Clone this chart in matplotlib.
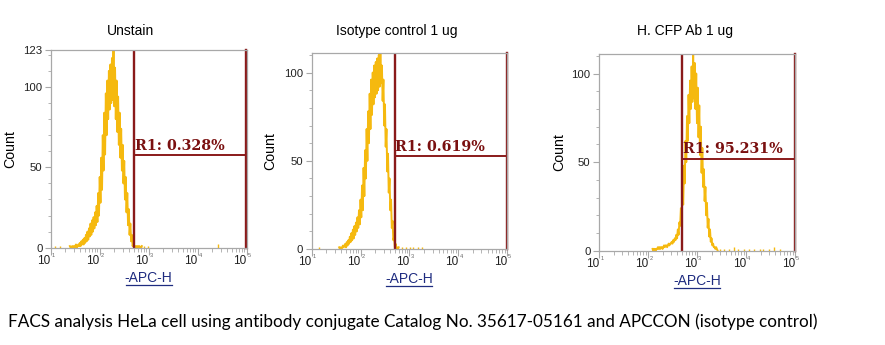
import matplotlib
matplotlib.use("Agg")
import matplotlib.pyplot as plt
import numpy as np
from matplotlib.ticker import FixedLocator, NullFormatter
from matplotlib.transforms import blended_transform_factory

# channels: 64 per decade, log10(value) = 1 + ch / 64
CH_PER_DECADE = 64

titles = ["Unstain", "Isotype control 1 ug", "H. CFP Ab 1 ug"]
gate_labels = ["R1: 0.328%", "R1: 0.619%", "R1: 95.231%"]
gate_lo = [500, 500, 495]
gate_hi = [98500, 98500, 98500]
gate_y = [57.7, 52.6, 52.0]
y_max = [123, 111, 111]
y_ticks = [[0, 50, 100, 123], [0, 50, 100], [0, 50, 100]]
decades = [1, 2, 3, 4, 5]

unstain_start = 25
unstain_counts = [1, 0, 0, 1, 0, 1, 0, 1, 2, 0, 1, 2, 1, 3, 1, 4, 2, 5, 2, 6,
                  3, 8, 4, 10, 5, 12, 7, 15, 8, 17, 10, 19, 12, 22, 14, 26, 16, 34, 20, 44,
                  28, 56, 36, 70, 48, 84, 58, 96, 70, 104, 80, 110, 86, 114, 90, 118, 92, 123, 88, 112,
                  80, 104, 72, 94, 64, 84, 56, 74, 48, 64, 40, 54, 30, 44, 22, 34, 14, 24, 8, 15,
                  4, 8, 1, 3, 0, 1, 0, 1, 0, 1, 0, 1, 0, 0, 1]
unstain_sparse_ch = [6, 12, 118, 122, 127, 218]
unstain_sparse_n = [1, 1, 1, 1, 1, 2]

isotype_start = 36
isotype_counts = [1, 0, 1, 0, 1, 2, 1, 2, 3, 1, 4, 2, 5, 3, 7, 4, 9, 5, 11, 6,
                  13, 8, 15, 10, 18, 12, 22, 14, 28, 18, 36, 22, 46, 30, 56, 40, 68, 50, 78, 60,
                  88, 68, 96, 76, 100, 82, 104, 86, 106, 88, 108, 90, 110, 92, 111, 94, 104, 84, 96, 70,
                  82, 58, 68, 44, 54, 32, 40, 22, 28, 12, 16, 5, 7, 1, 3, 0, 1, 0, 1]
isotype_sparse_ch = [9, 118, 124, 129, 133, 139, 145]
isotype_sparse_n = [1, 1, 1, 1, 1, 1, 1]

cfp_start = 70
cfp_counts = [1, 0, 1, 1, 0, 1, 1, 2, 1, 2, 1, 2, 2, 1, 2, 3, 2, 3, 3, 2,
              3, 4, 3, 4, 4, 5, 4, 6, 5, 7, 6, 9, 7, 12, 9, 16, 14, 24, 18, 34,
              26, 48, 38, 62, 50, 76, 62, 88, 72, 96, 80, 104, 84, 111, 86, 106, 80, 100, 72, 92,
              64, 82, 54, 70, 44, 58, 36, 46, 28, 36, 20, 27, 13, 18, 8, 12, 5, 7, 3, 4,
              2, 2, 1, 2, 1, 0]
cfp_sparse_ch = [158, 163, 170, 176, 181, 189, 196, 203, 210, 214, 222, 229, 236]
cfp_sparse_n = [1, 1, 1, 2, 1, 1, 1, 1, 1, 1, 1, 2, 1]

hists = [
    (unstain_start, unstain_counts, unstain_sparse_ch, unstain_sparse_n),
    (isotype_start, isotype_counts, isotype_sparse_ch, isotype_sparse_n),
    (cfp_start, cfp_counts, cfp_sparse_ch, cfp_sparse_n),
]

axes_pos = [
    [0.0573, 0.282, 0.2215, 0.573],
    [0.3522, 0.278, 0.2207, 0.568],
    [0.6768, 0.2733, 0.2215, 0.570],
]
title_x = [130.5, 397, 685]
ylabel_x = [-0.169, -0.178, -0.168]

spine_col = "#a8a8a8"
hist_col = "#f5b90f"
gate_col = "#8a1a1a"
label_col = "#1f2c80"

plt.rcParams["font.family"] = ["Liberation Sans", "DejaVu Sans"]
fig = plt.figure(figsize=(8.85, 3.45), dpi=100)


def ch_to_val(ch):
    return 10 ** (1 + np.asarray(ch, dtype=float) / CH_PER_DECADE)


for i in range(3):
    ax = fig.add_axes(axes_pos[i])
    start, counts, sp_ch, sp_n = hists[i]
    x = ch_to_val(np.arange(start, start + len(counts)))
    ax.plot(x, counts, color=hist_col, lw=1.4)
    ax.vlines(ch_to_val(sp_ch), 0, sp_n, color=hist_col, lw=1.0)

    ax.set_xscale("log")
    ax.set_xlim(10, 1e5)
    ax.set_ylim(0, y_max[i])

    # gate R1
    ax.plot([gate_lo[i], gate_lo[i]], [0, y_max[i]], color=gate_col, lw=1.7)
    ax.plot([gate_hi[i], gate_hi[i]], [0, y_max[i]], color=gate_col, lw=1.7, clip_on=False)
    ax.plot([gate_lo[i], gate_hi[i]], [gate_y[i], gate_y[i]], color=gate_col, lw=1.4)
    ax.text(gate_lo[i] * 1.03, gate_y[i] + 1.2, gate_labels[i], color="#7a1010",
            fontsize=10.3, family="DejaVu Serif", weight="bold", va="bottom", ha="left")

    for s in ax.spines.values():
        s.set_color(spine_col)
        s.set_linewidth(0.9)

    ax.xaxis.set_major_locator(FixedLocator([10.0 ** d for d in decades]))
    ax.xaxis.set_major_formatter(NullFormatter())
    minors = [m * 10 ** d for d in range(1, 5) for m in range(2, 10)]
    ax.xaxis.set_minor_locator(FixedLocator(minors))
    ax.xaxis.set_minor_formatter(NullFormatter())
    ax.tick_params(axis="x", which="major", length=5, color=spine_col)
    ax.tick_params(axis="x", which="minor", length=3, color=spine_col)

    # "10" with tiny exponent, as on the cytometer export
    tr = blended_transform_factory(ax.transData, ax.transAxes)
    for d in decades:
        ax.text(10.0 ** d, -0.036, "10", transform=tr, ha="right", va="top",
                fontsize=8.5, color="#222222")
        ax.text(10.0 ** d * 1.06, -0.026, str(d), transform=tr, ha="left", va="top",
                fontsize=4, color="#666666")

    ax.set_yticks(y_ticks[i])
    ax.yaxis.set_minor_locator(FixedLocator(list(range(0, y_max[i], 10))))
    ax.tick_params(axis="y", which="major", length=4, color=spine_col, labelsize=8.2,
                   pad=2, labelcolor="#222222")
    ax.tick_params(axis="y", which="minor", length=2, color=spine_col)

    ax.set_ylabel("Count", fontsize=10.2)
    ax.yaxis.set_label_coords(ylabel_x[i], 0.5)

    ax.text(0.5, -0.118, "-APC-H", transform=ax.transAxes, ha="center", va="top",
            fontsize=10, color=label_col)
    ax.plot([0.382, 0.618], [-0.188, -0.188], transform=ax.transAxes, color=label_col,
            lw=0.9, clip_on=False)

    fig.text(title_x[i] / 885, 1 - 31 / 345, titles[i], ha="center", va="center", fontsize=10)

fig.text(8 / 885, 1 - 322 / 345,
         "FACS analysis HeLa cell using antibody conjugate Catalog No. 35617-05161 and APCCON (isotype control)",
         ha="left", va="center", fontsize=12.3, family="Lato")

fig.savefig("out.png", dpi=100)
